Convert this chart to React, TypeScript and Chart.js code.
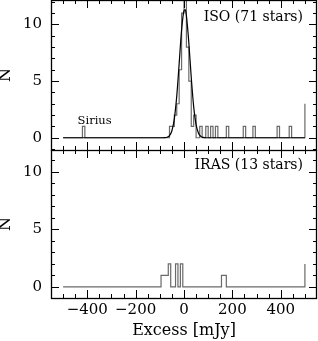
import React, { useEffect, useRef } from 'react';
import { Chart, registerables } from 'chart.js';

Chart.register(...registerables);

// ---- data ----
const X_MIN = -550;
const X_MAX = 550;
const HIST_START = -500;
const HIST_END = 500;
const BIN_WIDTH = 10;
const X_TICK_VALUES = [-400, -200, 0, 200, 400];
const Y_TICK_VALUES = [0, 5, 10];

// ISO panel (71 stars): left edges of non-empty bins and their counts
const ISO_BIN_LEFT = [-420, -60, -50, -40, -30, -20, -10, 0, 10, 20, 30, 40, 65, 90, 110, 130, 175, 245, 285, 385, 435];
const ISO_BIN_COUNT = [1, 1, 1, 2, 3, 6, 11, 14, 8, 5, 1, 2, 1, 1, 1, 1, 1, 1, 1, 1, 1];
const ISO_OVERFLOW = 3;

// Gaussian fit curve
const FIT_X = [-500, -90, -80, -70, -60, -50, -40, -30, -20, -10, 0, 5, 10, 20, 30, 40, 50, 60, 70, 80, 90, 500];
const FIT_Y = [0, 0, 0.01, 0.05, 0.19, 0.62, 1.67, 3.67, 6.55, 9.49, 11.2, 11.3, 10.75, 8.38, 5.32, 2.75, 1.15, 0.39, 0.11, 0.03, 0, 0];

// IRAS panel (13 stars)
const IRAS_BIN_LEFT = [-95, -85, -75, -65, -35, -15, 155, 165];
const IRAS_BIN_COUNT = [1, 1, 1, 2, 2, 2, 1, 1];
const IRAS_OVERFLOW = 2;

const FONT = 'DejaVu Serif';
const HIST_COLOR = '#6a6a6a';

function histPoints(lefts: number[], counts: number[], overflow: number) {
  const pts: { x: number; y: number }[] = [{ x: HIST_START, y: 0 }];
  let end = HIST_START;
  lefts.forEach((l, i) => {
    if (l > end) pts.push({ x: l, y: 0 });
    pts.push({ x: l, y: counts[i] });
    pts.push({ x: l + BIN_WIDTH, y: counts[i] });
    end = l + BIN_WIDTH;
    const next = lefts[i + 1];
    if (next === undefined || next > end) pts.push({ x: end, y: 0 });
  });
  pts.push({ x: HIST_END, y: 0 });
  pts.push({ x: HIST_END, y: overflow });
  return pts;
}

type TextItem = { text: string; x: number; y: number; size: number; align: CanvasTextAlign; data?: boolean };

function framePlugin(texts: TextItem[]) {
  return {
    id: 'frame',
    afterDraw(chart: any) {
      const { ctx, chartArea } = chart;
      const xs = chart.scales.x;
      const ys = chart.scales.y;
      const { left, right, top, bottom } = chartArea;
      ctx.save();
      ctx.strokeStyle = '#000';
      ctx.lineWidth = 1;
      ctx.beginPath();
      // x ticks every 50, major every 200
      for (let v = HIST_START; v <= HIST_END; v += 50) {
        const px = Math.round(xs.getPixelForValue(v)) + 0.5;
        const len = v % 200 === 0 ? 8 : 4;
        ctx.moveTo(px, bottom);
        ctx.lineTo(px, bottom - len);
        ctx.moveTo(px, top);
        ctx.lineTo(px, top + len);
      }
      // y ticks every 1, major every 5
      for (let v = Math.ceil(ys.min); v <= Math.floor(ys.max); v += 1) {
        const py = Math.round(ys.getPixelForValue(v)) + 0.5;
        const len = v % 5 === 0 ? 8 : 4;
        ctx.moveTo(left, py);
        ctx.lineTo(left + len, py);
        ctx.moveTo(right, py);
        ctx.lineTo(right - len, py);
      }
      ctx.stroke();
      ctx.lineWidth = 1.3;
      ctx.strokeRect(Math.round(left) + 0.5, Math.round(top) + 0.5, Math.round(right - left) - 1, Math.round(bottom - top));
      ctx.fillStyle = '#000';
      texts.forEach((t) => {
        ctx.font = `${t.size}px "${FONT}"`;
        ctx.textAlign = t.align;
        ctx.textBaseline = 'alphabetic';
        const x = t.data ? xs.getPixelForValue(t.x) : right + t.x;
        const y = t.data ? ys.getPixelForValue(t.y) : top + t.y;
        ctx.fillText(t.text, x, y);
      });
      ctx.restore();
    },
  };
}

function yScale(min: number, max: number) {
  return {
    type: 'linear',
    min,
    max,
    afterBuildTicks: (s: any) => {
      s.ticks = Y_TICK_VALUES.map((v) => ({ value: v }));
    },
    afterFit: (s: any) => {
      s.width = 51;
      s.paddingTop = 0;
      s.paddingBottom = 0;
      s.paddingLeft = 0;
      s.paddingRight = 0;
    },
    grid: { display: false, drawTicks: false },
    border: { display: false },
    ticks: { font: { family: FONT, size: 15 }, color: '#000', padding: 9 },
    title: {
      display: true,
      text: 'N',
      color: '#000',
      font: { family: FONT, size: 16, lineHeight: 1 },
      padding: { top: -2, bottom: 0 },
    },
  };
}

export default function App() {
  const topRef = useRef<HTMLCanvasElement>(null);
  const botRef = useRef<HTMLCanvasElement>(null);

  useEffect(() => {
    const isoHist = histPoints(ISO_BIN_LEFT, ISO_BIN_COUNT, ISO_OVERFLOW);
    const fit = FIT_X.map((x, i) => ({ x, y: FIT_Y[i] }));
    const irasHist = histPoints(IRAS_BIN_LEFT, IRAS_BIN_COUNT, IRAS_OVERFLOW);

    const topChart = new Chart(topRef.current as HTMLCanvasElement, {
      type: 'line',
      data: {
        datasets: [
          {
            data: fit,
            borderColor: '#000',
            borderWidth: 1.2,
            pointRadius: 0,
            cubicInterpolationMode: 'monotone',
            fill: false,
          },
          {
            data: isoHist,
            borderColor: HIST_COLOR,
            borderWidth: 1.2,
            pointRadius: 0,
            tension: 0,
            fill: false,
          },
        ],
      } as any,
      options: {
        animation: false,
        responsive: false,
        events: [],
        layout: { padding: { left: 0, right: 1, top: 0, bottom: 1 } },
        plugins: { legend: { display: false }, tooltip: { enabled: false } },
        scales: {
          x: { type: 'linear', min: X_MIN, max: X_MAX, display: false },
          y: yScale(-1.08, 12.15),
        },
      } as any,
      plugins: [
        framePlugin([
          { text: 'ISO (71 stars)', x: -14, y: 20.5, size: 14, align: 'right' },
          { text: 'Sirius', x: -440, y: 1.21, size: 11.5, align: 'left', data: true },
        ]),
      ],
    });

    const botChart = new Chart(botRef.current as HTMLCanvasElement, {
      type: 'line',
      data: {
        datasets: [
          {
            data: irasHist,
            borderColor: HIST_COLOR,
            borderWidth: 1.2,
            pointRadius: 0,
            tension: 0,
            fill: false,
          },
        ],
      } as any,
      options: {
        animation: false,
        responsive: false,
        events: [],
        layout: { padding: { left: 0, right: 1, top: 0, bottom: 0 } },
        plugins: { legend: { display: false }, tooltip: { enabled: false } },
        scales: {
          x: {
            type: 'linear',
            min: X_MIN,
            max: X_MAX,
            afterBuildTicks: (s: any) => {
              s.ticks = X_TICK_VALUES.map((v) => ({ value: v }));
            },
            afterFit: (s: any) => {
              s.height = 43;
              s.paddingLeft = 0;
              s.paddingRight = 0;
              s.paddingTop = 0;
              s.paddingBottom = 0;
            },
            grid: { display: false, drawTicks: false },
            border: { display: false },
            ticks: {
              font: { family: FONT, size: 15 },
              color: '#000',
              padding: 3,
              maxRotation: 0,
              autoSkip: false,
              callback: (v: any) => (v < 0 ? '\u2212' + Math.abs(v) : String(v)),
            },
            title: {
              display: true,
              text: 'Excess [mJy]',
              color: '#000',
              font: { family: FONT, size: 16, lineHeight: 1 },
              padding: { top: 0, bottom: 2 },
            },
          },
          y: yScale(-0.96, 11.9),
        },
      } as any,
      plugins: [framePlugin([{ text: 'IRAS (13 stars)', x: -14, y: 18.5, size: 14, align: 'right' }])],
    });

    return () => {
      topChart.destroy();
      botChart.destroy();
    };
  }, []);

  return (
    <div style={{ position: 'absolute', left: 0, top: 0, width: 318, height: 341, background: '#fff' }}>
      <canvas ref={topRef} width={318} height={151} style={{ position: 'absolute', left: 0, top: 0 }} />
      <canvas ref={botRef} width={318} height={191} style={{ position: 'absolute', left: 0, top: 150 }} />
    </div>
  );
}
